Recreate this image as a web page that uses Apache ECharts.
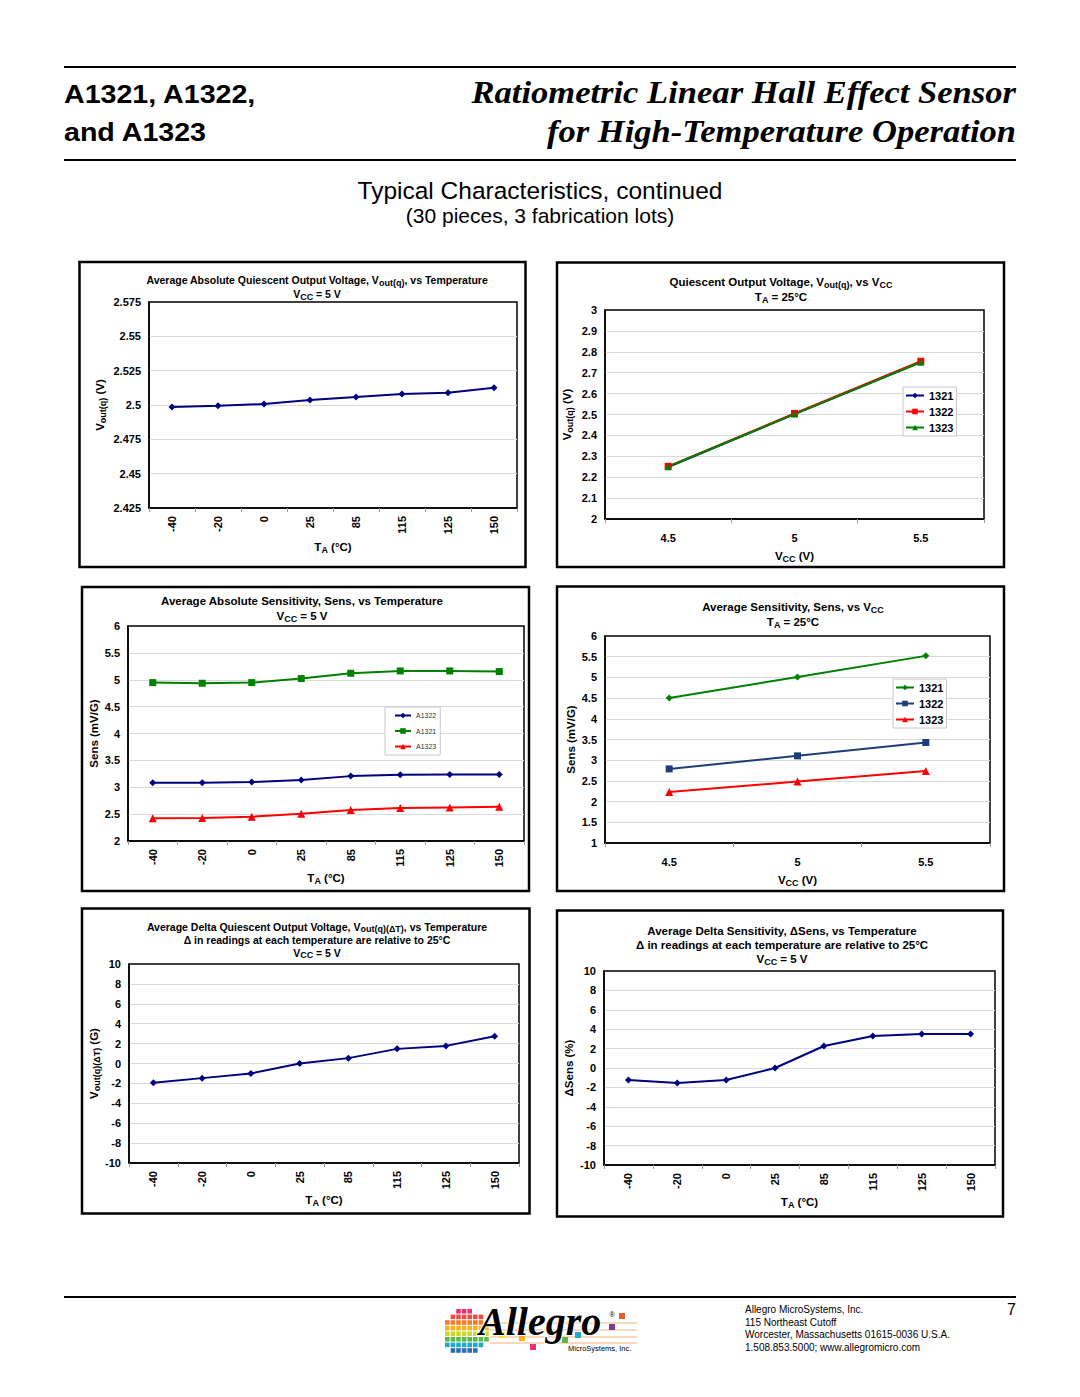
<!DOCTYPE html>
<html><head><meta charset="utf-8">
<script src="https://cdn.jsdelivr.net/npm/echarts@6/dist/echarts.min.js"></script>
<style>html,body{margin:0;padding:0;background:#fff}#main{width:1080px;height:1397px}</style>
</head><body><div id="main"></div>
<script>
// ---------- DATA ----------
const tempCategories = ['-40', '-20', '0', '25', '85', '115', '125', '150'];
const vccCategories = ['4.5', '5', '5.5'];

// Chart 1: Average absolute Vout(q) vs temperature (V)
const vqVsTemp = [2.4985, 2.4995, 2.5007, 2.5037, 2.5059, 2.5080, 2.5090, 2.5126];

// Chart 2: Vout(q) vs Vcc (V)
const vqVsVcc1321 = [2.249, 2.502, 2.751];
const vqVsVcc1322 = [2.252, 2.505, 2.755];
const vqVsVcc1323 = [2.250, 2.502, 2.750];

// Chart 3: Average absolute sensitivity vs temperature (mV/G)
const sensVsTempA1322 = [3.084, 3.084, 3.096, 3.133, 3.207, 3.232, 3.238, 3.238];
const sensVsTempA1321 = [4.947, 4.935, 4.947, 5.022, 5.121, 5.164, 5.164, 5.152];
const sensVsTempA1323 = [2.421, 2.427, 2.452, 2.508, 2.576, 2.613, 2.625, 2.638];

// Chart 4: Average sensitivity vs Vcc (mV/G)
const sensVsVcc1321 = [4.50, 5.01, 5.52];
const sensVsVcc1322 = [2.79, 3.105, 3.427];
const sensVsVcc1323 = [2.234, 2.484, 2.742];

// Chart 5: Average delta Vout(q) vs temperature (G)
const deltaVqVsTemp = [-1.94, -1.47, -1.00, 0.00, 0.54, 1.47, 1.77, 2.74];

// Chart 6: Average delta sensitivity vs temperature (%)
const deltaSensVsTemp = [-1.24, -1.55, -1.24, 0.00, 2.27, 3.30, 3.51, 3.51];

// Legend labels
const legendVcc = ['1321', '1322', '1323'];
const legendTemp = ['A1322', 'A1321', 'A1323'];

// ---------- STYLE HELPERS ----------
const SANS = '"Liberation Sans", Arial, Helvetica, sans-serif';
const SERIF = '"Liberation Serif", "Times New Roman", serif';
const NAVY = '#000080';
const GREEN = '#008000';
const RED = '#ff0000';
const NAVY2 = '#1f3d7a';

function richFor(size) {
  return {
    s: { fontFamily: SANS, fontWeight: 'bold', fontSize: Math.round(size * 0.82), lineHeight: Math.round(size * 0.75), verticalAlign: 'bottom', color: '#000' }
  };
}
function mkTitle(text, cx, top, size, lh) {
  return {
    text: text, left: cx, top: top, textAlign: 'center', padding: 0, itemGap: 0,
    textStyle: { fontFamily: SANS, fontWeight: 'bold', fontSize: size, lineHeight: lh, color: '#000', rich: richFor(size) }
  };
}
function nameStyle(size) {
  return { fontFamily: SANS, fontWeight: 'bold', fontSize: size, lineHeight: 14, color: '#000', rich: richFor(size) };
}
function mkGrid(left, top, width, height) {
  return { left: left, top: top, width: width, height: height, show: true, borderColor: '#000', borderWidth: 1.5, backgroundColor: '#fff' };
}
function mkX(gi, cats, rotated, nameGap, margin) {
  return {
    gridIndex: gi, type: 'category', data: cats, boundaryGap: true,
    name: 'T{s|A} (°C)', nameLocation: 'middle', nameGap: nameGap, nameTextStyle: nameStyle(11.5),
    axisLine: { show: true, onZero: false, lineStyle: { color: '#000', width: 1.5 } },
    axisTick: { show: true, interval: 0, length: 4, lineStyle: { color: '#999' } },
    axisLabel: { interval: 0, rotate: rotated ? 90 : 0, margin: margin, fontFamily: SANS, fontWeight: 'bold', fontSize: 11, color: '#000' },
    splitLine: { show: false }
  };
}
function mkY(gi, min, max, interval, name, nameGap) {
  return {
    gridIndex: gi, type: 'value', min: min, max: max, interval: interval,
    name: name, nameLocation: 'middle', nameGap: nameGap, nameTextStyle: nameStyle(11.5),
    axisLine: { show: true, onZero: false, lineStyle: { color: '#000', width: 1.5 } },
    axisTick: { show: false },
    axisLabel: { margin: 8, fontFamily: SANS, fontWeight: 'bold', fontSize: 11, color: '#000' },
    splitLine: { show: true, showMinLine: false, showMaxLine: false, lineStyle: { color: '#d9d9d9', width: 1 } }
  };
}
function mkSeries(name, gi, data, color, symbol, size) {
  return {
    type: 'line', name: name, xAxisIndex: gi, yAxisIndex: gi, data: data,
    symbol: symbol, symbolSize: size, showSymbol: true,
    lineStyle: { color: color, width: 2 }, itemStyle: { color: color },
    emphasis: { disabled: true }, silent: true, animation: false, z: 3
  };
}
function mkLegend(names, left, top, fontSize, fontWeight, color, itemWidth, itemGap, padding, lineHeight) {
  return {
    data: names, orient: 'vertical', left: left, top: top,
    itemWidth: itemWidth, itemHeight: 7, itemGap: itemGap, padding: padding,
    borderColor: '#c8c8c8', borderWidth: 1, borderRadius: 0, backgroundColor: '#fff',
    selectedMode: false, formatter: function (n) { return n.slice(3); },
    textStyle: { fontFamily: SANS, fontSize: fontSize, fontWeight: fontWeight, color: color, lineHeight: lineHeight }
  };
}

// ---------- GRAPHIC (page furniture) ----------
function txt(text, x, y, font, align, extra) {
  const el = { type: 'text', x: x, y: y, silent: true,
    style: { text: text, font: font, fill: '#000', textAlign: align, align: align, textVerticalAlign: 'middle', verticalAlign: 'middle' } };
  return Object.assign(el, extra || {});
}
function hline(x1, x2, y, w) {
  return { type: 'line', silent: true, shape: { x1: x1, y1: y, x2: x2, y2: y }, style: { stroke: '#000', lineWidth: w } };
}
function frame(x, y, w, h) {
  return { type: 'rect', silent: true, shape: { x: x, y: y, width: w, height: h }, style: { fill: 'none', stroke: '#000', lineWidth: 2.5 } };
}

const graphics = [
  hline(64, 1016, 67, 2), hline(64, 1016, 160, 2), hline(64, 1016, 1297, 2),
  txt('A1321, A1322,', 64, 94, 'bold 26px ' + SANS, 'left', { scaleX: 1.1 }),
  txt('and A1323', 64, 132, 'bold 26px ' + SANS, 'left', { scaleX: 1.1 }),
  txt('Ratiometric Linear Hall Effect Sensor', 1016, 92, 'italic bold 32px ' + SERIF, 'right', { scaleX: 1.08 }),
  txt('for High-Temperature Operation', 1016, 131, 'italic bold 32px ' + SERIF, 'right', { scaleX: 1.08 }),
  txt('Typical Characteristics, continued', 540, 190, '24.5px ' + SANS, 'center'),
  txt('(30 pieces, 3 fabrication lots)', 540, 215, '21px ' + SANS, 'center'),
  frame(79.5, 262, 446, 305), frame(557, 262.5, 447, 304.5),
  frame(82, 587, 447, 304), frame(557, 586.5, 447, 304.5),
  frame(82, 908.5, 447.5, 305), frame(557, 910.5, 446, 306),
  txt('Allegro MicroSystems, Inc.', 745, 1309, '10px ' + SANS, 'left'),
  txt('115 Northeast Cutoff', 745, 1322, '10px ' + SANS, 'left'),
  txt('Worcester, Massachusetts 01615-0036 U.S.A.', 745, 1334.5, '10px ' + SANS, 'left'),
  txt('1.508.853.5000; www.allegromicro.com', 745, 1347, '10px ' + SANS, 'left'),
  txt('7', 1016, 1309, '16px ' + SANS, 'right')
];

// Logo: coloured dot-matrix disc + wordmark
const logoRows = ['#e8336e', '#ef4b4b', '#f47b2a', '#f7b21b', '#c9d82b', '#5cb947', '#20a9c9', '#2b6cb5', '#7a3d97'];
for (let r = 0; r < logoRows.length; r++) {
  for (let c = 0; c < 8; c++) {
    const cx = 445 + c * 5.6 + 2.3, cy = 1309 + r * 5.6 + 2.3;
    const dx = cx - 465, dy = cy - 1332;
    if (dx * dx + dy * dy <= 23 * 23) {
      graphics.push({ type: 'rect', silent: true, shape: { x: cx - 2.3, y: cy - 2.3, width: 4.6, height: 4.6 }, style: { fill: logoRows[r] } });
    }
  }
}
[1323, 1330, 1337, 1343].forEach(function (y) {
  graphics.push({ type: 'line', silent: true, shape: { x1: 490, y1: y, x2: 637, y2: y }, style: { stroke: '#f3b27a', lineWidth: 1 } });
});
[[622, 1316, '#f05a28'], [612, 1327, '#7a3d97'], [578, 1335, '#20a9c9'], [565, 1340, '#5cb947'], [533, 1347, '#e8336e'], [522, 1338, '#f7b21b'], [502, 1335, '#f4e01d']].forEach(function (p) {
  graphics.push({ type: 'rect', silent: true, shape: { x: p[0] - 3, y: p[1] - 3, width: 6, height: 6 }, style: { fill: p[2] } });
});
graphics.push({ type: 'text', x: 479, y: 1321, silent: true,
  style: { text: 'Allegro', font: 'italic bold 40px ' + SERIF, fill: '#000', stroke: '#fff', lineWidth: 2, textAlign: 'left', align: 'left', textVerticalAlign: 'middle', verticalAlign: 'middle' } });
graphics.push(txt('®', 612, 1314, '7px ' + SANS, 'center'));
graphics.push(txt('MicroSystems, Inc.', 568, 1348.5, '7.5px ' + SANS, 'left'));

// ---------- OPTION ----------
const option = {
  backgroundColor: '#fff',
  animation: false,
  title: [
    mkTitle('Average Absolute Quiescent Output Voltage, V{s|out(q)}, vs Temperature\nV{s|CC} = 5 V', 317, 273, 10.5, 14),
    mkTitle('Quiescent Output Voltage, V{s|out(q)}, vs V{s|CC}\nT{s|A} = 25°C', 781, 274.5, 11.5, 15),
    mkTitle('Average Absolute Sensitivity, Sens, vs Temperature\nV{s|CC} = 5 V', 302, 593.5, 11.5, 15),
    mkTitle('Average Sensitivity, Sens, vs V{s|CC}\nT{s|A} = 25°C', 793, 600, 11.5, 14.5),
    mkTitle('Average Delta Quiescent Output Voltage, V{s|out(q)(ΔT)}, vs Temperature\nΔ in readings at each temperature are relative to 25°C\nV{s|CC} = 5 V', 317, 921, 10.5, 12.7),
    mkTitle('Average Delta Sensitivity, ΔSens, vs Temperature\nΔ in readings at each temperature are relative to 25°C\nV{s|CC} = 5 V', 782, 924, 11.5, 14)
  ],
  grid: [
    mkGrid(149, 302, 368, 206),
    mkGrid(605, 310, 379, 209),
    mkGrid(128, 626, 396, 215),
    mkGrid(605, 636, 385, 207),
    mkGrid(129, 964, 390, 199),
    mkGrid(604, 971, 391, 194)
  ],
  xAxis: [
    mkX(0, tempCategories, true, 32, 8),
    Object.assign(mkX(1, vccCategories, false, 30, 13), { name: 'V{s|CC} (V)' }),
    mkX(2, tempCategories, true, 30, 8),
    Object.assign(mkX(3, vccCategories, false, 30, 13), { name: 'V{s|CC} (V)' }),
    mkX(4, tempCategories, true, 30, 8),
    mkX(5, tempCategories, true, 30, 8)
  ],
  yAxis: [
    mkY(0, 2.425, 2.575, 0.025, 'V{s|out(q)} (V)', 42),
    mkY(1, 2, 3, 0.1, 'V{s|out(q)} (V)', 31),
    mkY(2, 2, 6, 0.5, 'Sens (mV/G)', 26),
    mkY(3, 1, 6, 0.5, 'Sens (mV/G)', 26),
    mkY(4, -10, 10, 2, 'V{s|out(q)(ΔT)} (G)', 27),
    mkY(5, -10, 10, 2, 'ΔSens (%)', 26)
  ],
  legend: [
    mkLegend(legendVcc.map(function (n) { return 'c2_' + n; }), 903, 387, 11, 'bold', '#000', 18, 3, [2, 3, 2, 2], 13),
    mkLegend(legendTemp.map(function (n) { return 'c3_' + n; }), 385, 707, 7, 'normal', '#333', 16, 6.5, [4, 4, 4, 9], 9),
    mkLegend(legendVcc.map(function (n) { return 'c4_' + n; }), 893, 679, 11, 'bold', '#000', 18, 3, [2, 3, 2, 2], 13)
  ],
  series: [
    mkSeries('c1_vq', 0, vqVsTemp, NAVY, 'diamond', 7),
    mkSeries('c2_1321', 1, vqVsVcc1321, NAVY, 'diamond', 7),
    mkSeries('c2_1322', 1, vqVsVcc1322, RED, 'rect', 7),
    mkSeries('c2_1323', 1, vqVsVcc1323, GREEN, 'triangle', 7),
    mkSeries('c3_A1322', 2, sensVsTempA1322, NAVY, 'diamond', 7),
    mkSeries('c3_A1321', 2, sensVsTempA1321, GREEN, 'rect', 7),
    mkSeries('c3_A1323', 2, sensVsTempA1323, RED, 'triangle', 8),
    mkSeries('c4_1321', 3, sensVsVcc1321, GREEN, 'diamond', 7),
    mkSeries('c4_1322', 3, sensVsVcc1322, NAVY2, 'rect', 7),
    mkSeries('c4_1323', 3, sensVsVcc1323, RED, 'triangle', 8),
    mkSeries('c5_dvq', 4, deltaVqVsTemp, NAVY, 'diamond', 7),
    mkSeries('c6_ds', 5, deltaSensVsTemp, NAVY, 'diamond', 7)
  ],
  graphic: graphics
};

const chart = echarts.init(document.getElementById('main'), null, { renderer: 'svg', width: 1080, height: 1397 });
chart.setOption(option);
</script>
</body></html>
